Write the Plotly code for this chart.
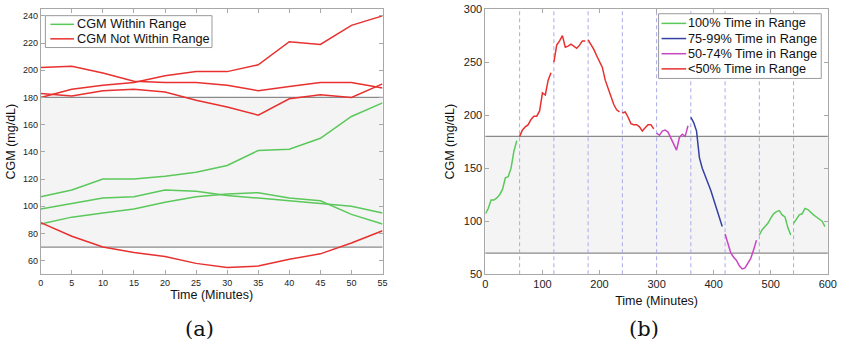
import plotly.graph_objects as go

# Minutes within each hour (CGM readings every 5 minutes)
minutes = [0, 5, 10, 15, 20, 25, 30, 35, 40, 45, 50, 55]

# CGM readings (mg/dL) for each hour of the recording
hour_0 = [107, 112, 120, 120, 122, 125, 130, 141, 142, 150, 166, 176]
hour_1 = [180, 186, 189, 191, 196, 199, 199, 204, 221, 219, 233, 240]
hour_2 = [250, 266, 270, 275, 264, 265, 267, 265, 263, 266, 270, 270]
hour_3 = [271, 267, 262, 256, 250, 245, 233, 225, 217, 210, 205, 203]
hour_4 = [202, 203, 198, 192, 191, 191, 189, 185, 188, 191, 191, 187]
hour_5 = [183, 181, 185, 186, 184, 178, 173, 167, 179, 182, 180, 190]
hour_6 = [198, 193, 185, 160, 150, 142, 136, 129, 121, 113, 104, 95]
hour_7 = [88, 78, 70, 66, 63, 58, 55, 56, 61, 65, 73, 82]
hour_8 = [87, 92, 95, 98, 103, 107, 109, 110, 106, 104, 94, 87]
hour_9 = [98, 102, 106, 107, 112, 111, 108, 106, 104, 102, 100, 95]
hours = [hour_0, hour_1, hour_2, hour_3, hour_4,
         hour_5, hour_6, hour_7, hour_8, hour_9]

# Time-in-range class of each hour (index into tir_labels)
hour_tir_class = [0, 3, 3, 3, 3, 2, 1, 2, 0, 0]
tir_labels = ["100% Time in Range", "75-99% Time in Range",
              "50-74% Time in Range", "<50% Time in Range"]

# Hours overlaid in panel (a) and whether they stayed in range
panel_a_hours = [0, 8, 9, 1, 4, 5, 7]
panel_a_within = [True, True, True, False, False, False, False]
within_labels = ["CGM Within Range", "CGM Not Within Range"]

# Target glucose range
range_low, range_high = 70, 180

# Tick values
a_xticks = [0, 5, 10, 15, 20, 25, 30, 35, 40, 45, 50, 55]
a_yticks = [60, 80, 100, 120, 140, 160, 180, 200, 220, 240]
b_xticks = [0, 100, 200, 300, 400, 500, 600]
b_yticks = [50, 100, 150, 200, 250, 300]

GREEN = "#5ac85a"
RED = "#e8302e"
BLUE = "#3441a3"
MAGENTA = "#c846c2"
tir_colors = [GREEN, BLUE, MAGENTA, RED]
within_colors = [GREEN, RED]

SANS = "Liberation Sans, Arial, Helvetica, sans-serif"
SERIF = "DejaVu Serif, Liberation Serif, serif"

W, H = 847, 352

fig = go.Figure()

# ---- Panel (a): hourly traces overlaid on a 0-55 minute axis ----
for h, within in zip(panel_a_hours, panel_a_within):
    k = 0 if within else 1
    fig.add_trace(go.Scatter(
        x=minutes, y=hours[h], mode="lines",
        line=dict(color=within_colors[k], width=1.5),
        name=within_labels[k], showlegend=False,
        xaxis="x", yaxis="y",
    ))

# ---- Panel (b): full recording, each hour coloured by time in range ----
for h, values in enumerate(hours):
    cls = hour_tir_class[h]
    fig.add_trace(go.Scatter(
        x=[60 * h + m for m in minutes], y=values, mode="lines",
        line=dict(color=tir_colors[cls], width=1.5),
        name=tir_labels[cls], showlegend=False,
        xaxis="x2", yaxis="y2",
    ))

shapes = []
annotations = []

for xa, ya in (("x", "y"), ("x2", "y2")):
    shapes.append(dict(type="rect", xref=f"{xa} domain", yref=ya,
                       x0=0, x1=1, y0=range_low, y1=range_high,
                       fillcolor="#f4f4f4", line=dict(width=0), layer="below"))
    for lvl in (range_low, range_high):
        shapes.append(dict(type="line", xref=f"{xa} domain", yref=ya,
                           x0=0, x1=1, y0=lvl, y1=lvl,
                           line=dict(color="#8a8a8a", width=1.2), layer="below"))
# hour boundaries in panel (b)
for h in range(1, len(hours)):
    shapes.append(dict(type="line", xref="x2", yref="y2 domain",
                       x0=60 * h, x1=60 * h, y0=0, y1=1,
                       line=dict(color="#aaaaee", width=1, dash="4px,3px"),
                       layer="below"))


def px_x(v):
    return v / W


def px_y(v):
    return 1 - v / H


def add_legend(labels, colors, box, first_row, row_step, line_x, text_x, size):
    """Compact boxed legend drawn in pixel-based paper coordinates."""
    left, top, right, bottom = box
    shapes.append(dict(type="rect", xref="paper", yref="paper",
                       x0=px_x(left), x1=px_x(right),
                       y0=px_y(bottom), y1=px_y(top),
                       fillcolor="white", line=dict(color="#9a9a9a", width=1),
                       layer="above"))
    for i, (lab, col) in enumerate(zip(labels, colors)):
        yy = first_row + i * row_step
        shapes.append(dict(type="line", xref="paper", yref="paper",
                           x0=px_x(line_x[0]), x1=px_x(line_x[1]),
                           y0=px_y(yy), y1=px_y(yy),
                           line=dict(color=col, width=1.5), layer="above"))
        annotations.append(dict(text=lab, xref="paper", yref="paper",
                                x=px_x(text_x), y=px_y(yy),
                                xanchor="left", yanchor="middle",
                                showarrow=False,
                                font=dict(family=SANS, size=size, color="#111")))


add_legend(within_labels, within_colors, (43, 10, 212, 43), 19, 15,
           (48, 72), 73, 12.7)
add_legend(tir_labels, tir_colors, (665, 8, 830, 75), 18, 15.7,
           (668, 693), 693, 12.7)

annotations += [
    dict(text="(a)", xref="paper", yref="paper", x=px_x(199), y=px_y(334),
         xanchor="center", yanchor="middle", showarrow=False,
         font=dict(family=SERIF, size=21, color="#111")),
    dict(text="(b)", xref="paper", yref="paper", x=px_x(650), y=px_y(334),
         xanchor="center", yanchor="middle", showarrow=False,
         font=dict(family=SERIF, size=21, color="#111")),
]

axis_common = dict(showline=True, linecolor="#a8a8a8", linewidth=1,
                   mirror="ticks", ticks="inside", ticklen=4,
                   tickcolor="#a8a8a8", showgrid=False, zeroline=False,
                   ticklabeloverflow="allow")

fig.update_layout(
    width=W, height=H,
    margin=dict(l=0, r=0, t=0, b=0),
    paper_bgcolor="white", plot_bgcolor="white",
    font=dict(family=SANS, color="#111"),
    showlegend=False,
    shapes=shapes,
    annotations=annotations,
    xaxis=dict(axis_common, domain=[0.0452, 0.4545], range=[0, 55],
               tickvals=a_xticks, tickfont=dict(size=9, family=SANS, color="#222"),
               title=dict(text="Time (Minutes)", font=dict(size=12.5), standoff=2),
               anchor="y"),
    yaxis=dict(axis_common, domain=[0.211, 0.991], range=[50, 245],
               tickvals=a_yticks, tickfont=dict(size=9, family=SANS, color="#222"),
               title=dict(text="CGM (mg/dL)", font=dict(size=12.5), standoff=4),
               anchor="x"),
    xaxis2=dict(axis_common, domain=[0.5777, 0.9878], range=[0, 600],
                tickvals=b_xticks, tickfont=dict(size=11, family=SANS, color="#222"),
                title=dict(text="Time (Minutes)", font=dict(size=12.5), standoff=6),
                anchor="y2"),
    yaxis2=dict(axis_common, domain=[0.211, 0.991], range=[50, 300],
                tickvals=b_yticks, tickfont=dict(size=11, family=SANS, color="#222"),
                title=dict(text="CGM (mg/dL)", font=dict(size=12.5), standoff=6),
                anchor="x2"),
)

fig.write_html("out.html")
